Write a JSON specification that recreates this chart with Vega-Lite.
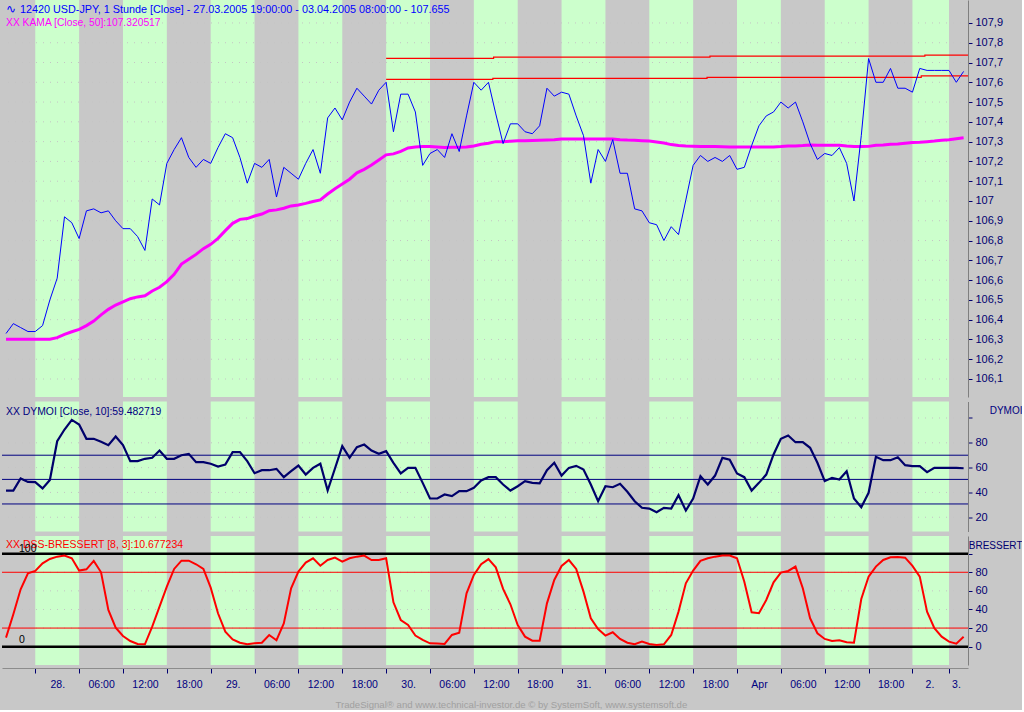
{
  "$schema": "https://vega.github.io/schema/vega-lite/v6.json",
  "padding": 0,
  "autosize": {"type": "pad"},
  "background": "#c8c8c8",
  "config": {
    "font": "Liberation Sans",
    "view": {"stroke": null, "fill": "#c8c8c8"},
    "axis": {
      "labelFont": "Liberation Sans",
      "labelFontSize": 11,
      "labelColor": "#000070",
      "tickColor": "#000070",
      "tickSize": 4,
      "labelPadding": 3,
      "domainColor": "#7f7f7f",
      "grid": false,
      "labelOverlap": false,
      "labelFlush": false
    }
  },
  "title": {
    "text": "TradeSignal® and www.technical-investor.de © by  SystemSoft, www.systemsoft.de",
    "orient": "bottom",
    "anchor": "middle",
    "fontSize": 9.6,
    "fontWeight": "normal",
    "color": "#a0a0a0",
    "font": "Liberation Sans",
    "offset": 10
  },
  "datasets": {
    "bars": [
      {"i":0,"price":106.33,"kama":106.301,"dymoi":41.5,"dss":9.7},
      {"i":1,"price":106.38,"kama":106.301,"dymoi":41.5,"dss":34.8},
      {"i":2,"price":106.36,"kama":106.301,"dymoi":51.2,"dss":61.7},
      {"i":3,"price":106.34,"kama":106.301,"dymoi":48.5,"dss":78.9},
      {"i":4,"price":106.34,"kama":106.301,"dymoi":48.3,"dss":81.4},
      {"i":5,"price":106.37,"kama":106.301,"dymoi":43.2,"dss":89.6},
      {"i":6,"price":106.50,"kama":106.301,"dymoi":50.1,"dss":94.3},
      {"i":7,"price":106.61,"kama":106.309,"dymoi":81.3,"dss":96.8},
      {"i":8,"price":106.92,"kama":106.326,"dymoi":90.7,"dss":97.9},
      {"i":9,"price":106.89,"kama":106.339,"dymoi":98.5,"dss":95.0},
      {"i":10,"price":106.81,"kama":106.351,"dymoi":94.8,"dss":81.8},
      {"i":11,"price":106.95,"kama":106.370,"dymoi":83.2,"dss":83.2},
      {"i":12,"price":106.96,"kama":106.393,"dymoi":83.2,"dss":92.2},
      {"i":13,"price":106.94,"kama":106.424,"dymoi":80.8,"dss":80.0},
      {"i":14,"price":106.95,"kama":106.452,"dymoi":78.1,"dss":39.5},
      {"i":15,"price":106.90,"kama":106.474,"dymoi":85.1,"dss":20.5},
      {"i":16,"price":106.86,"kama":106.490,"dymoi":78.1,"dss":11.5},
      {"i":17,"price":106.86,"kama":106.506,"dymoi":65.2,"dss":6.1},
      {"i":18,"price":106.82,"kama":106.515,"dymoi":65.2,"dss":2.9},
      {"i":19,"price":106.75,"kama":106.521,"dymoi":67.1,"dss":2.6},
      {"i":20,"price":107.01,"kama":106.545,"dymoi":67.9,"dss":21.5},
      {"i":21,"price":106.98,"kama":106.564,"dymoi":73.8,"dss":43.1},
      {"i":22,"price":107.19,"kama":106.592,"dymoi":67.1,"dss":64.6},
      {"i":23,"price":107.26,"kama":106.629,"dymoi":67.1,"dss":83.6},
      {"i":24,"price":107.32,"kama":106.681,"dymoi":70.0,"dss":92.5},
      {"i":25,"price":107.22,"kama":106.705,"dymoi":71.1,"dss":92.5},
      {"i":26,"price":107.17,"kama":106.730,"dymoi":64.4,"dss":88.6},
      {"i":27,"price":107.21,"kama":106.759,"dymoi":64.4,"dss":83.6},
      {"i":28,"price":107.19,"kama":106.781,"dymoi":63.1,"dss":63.5},
      {"i":29,"price":107.27,"kama":106.811,"dymoi":60.9,"dss":35.9},
      {"i":30,"price":107.34,"kama":106.850,"dymoi":62.5,"dss":16.2},
      {"i":31,"price":107.32,"kama":106.887,"dymoi":72.5,"dss":7.9},
      {"i":32,"price":107.22,"kama":106.907,"dymoi":72.5,"dss":4.3},
      {"i":33,"price":107.09,"kama":106.911,"dymoi":65.2,"dss":2.6},
      {"i":34,"price":107.19,"kama":106.924,"dymoi":55.5,"dss":3.6},
      {"i":35,"price":107.17,"kama":106.934,"dymoi":57.9,"dss":4.3},
      {"i":36,"price":107.21,"kama":106.951,"dymoi":57.9,"dss":12.6},
      {"i":37,"price":107.02,"kama":106.955,"dymoi":59.0,"dss":6.9},
      {"i":38,"price":107.17,"kama":106.963,"dymoi":52.3,"dss":25.1},
      {"i":39,"price":107.14,"kama":106.975,"dymoi":57.1,"dss":62.8},
      {"i":40,"price":107.11,"kama":106.980,"dymoi":61.7,"dss":80.7},
      {"i":41,"price":107.19,"kama":106.988,"dymoi":54.4,"dss":90.4},
      {"i":42,"price":107.26,"kama":106.997,"dymoi":59.8,"dss":95.0},
      {"i":43,"price":107.14,"kama":107.005,"dymoi":63.1,"dss":87.1},
      {"i":44,"price":107.42,"kama":107.035,"dymoi":41.5,"dss":93.2},
      {"i":45,"price":107.47,"kama":107.062,"dymoi":59.3,"dss":95.7},
      {"i":46,"price":107.41,"kama":107.086,"dymoi":77.3,"dss":91.4},
      {"i":47,"price":107.50,"kama":107.110,"dymoi":67.9,"dss":95.0},
      {"i":48,"price":107.57,"kama":107.142,"dymoi":76.5,"dss":96.8},
      {"i":49,"price":107.53,"kama":107.160,"dymoi":78.6,"dss":97.9},
      {"i":50,"price":107.49,"kama":107.182,"dymoi":73.8,"dss":93.2},
      {"i":51,"price":107.56,"kama":107.207,"dymoi":71.1,"dss":93.2},
      {"i":52,"price":107.60,"kama":107.233,"dymoi":73.3,"dss":95.0},
      {"i":53,"price":107.35,"kama":107.238,"dymoi":63.9,"dss":47.7},
      {"i":54,"price":107.54,"kama":107.251,"dymoi":55.3,"dss":28.7},
      {"i":55,"price":107.54,"kama":107.268,"dymoi":59.8,"dss":23.3},
      {"i":56,"price":107.45,"kama":107.273,"dymoi":59.8,"dss":11.9},
      {"i":57,"price":107.18,"kama":107.275,"dymoi":47.7,"dss":7.2},
      {"i":58,"price":107.24,"kama":107.275,"dymoi":35.1,"dss":3.6},
      {"i":59,"price":107.26,"kama":107.273,"dymoi":35.1,"dss":3.3},
      {"i":60,"price":107.22,"kama":107.270,"dymoi":38.3,"dss":2.9},
      {"i":61,"price":107.34,"kama":107.271,"dymoi":37.0,"dss":12.6},
      {"i":62,"price":107.25,"kama":107.271,"dymoi":41.0,"dss":15.1},
      {"i":63,"price":107.43,"kama":107.273,"dymoi":41.0,"dss":57.4},
      {"i":64,"price":107.60,"kama":107.278,"dymoi":43.7,"dss":77.1},
      {"i":65,"price":107.56,"kama":107.287,"dymoi":49.6,"dss":88.6},
      {"i":66,"price":107.60,"kama":107.292,"dymoi":52.3,"dss":94.2},
      {"i":67,"price":107.44,"kama":107.300,"dymoi":52.3,"dss":85.3},
      {"i":68,"price":107.29,"kama":107.300,"dymoi":46.4,"dss":62.1},
      {"i":69,"price":107.39,"kama":107.302,"dymoi":41.5,"dss":45.6},
      {"i":70,"price":107.39,"kama":107.305,"dymoi":45.0,"dss":23.3},
      {"i":71,"price":107.35,"kama":107.305,"dymoi":49.1,"dss":10.8},
      {"i":72,"price":107.34,"kama":107.306,"dymoi":47.7,"dss":6.5},
      {"i":73,"price":107.38,"kama":107.307,"dymoi":47.4,"dss":6.5},
      {"i":74,"price":107.57,"kama":107.308,"dymoi":57.9,"dss":46.6},
      {"i":75,"price":107.53,"kama":107.309,"dymoi":63.9,"dss":71.7},
      {"i":76,"price":107.55,"kama":107.313,"dymoi":53.6,"dss":86.8},
      {"i":77,"price":107.54,"kama":107.313,"dymoi":59.8,"dss":93.2},
      {"i":78,"price":107.43,"kama":107.313,"dymoi":61.4,"dss":83.6},
      {"i":79,"price":107.33,"kama":107.313,"dymoi":58.5,"dss":59.2},
      {"i":80,"price":107.09,"kama":107.313,"dymoi":46.4,"dss":30.5},
      {"i":81,"price":107.26,"kama":107.313,"dymoi":32.9,"dss":19.0},
      {"i":82,"price":107.20,"kama":107.313,"dymoi":45.0,"dss":11.9},
      {"i":83,"price":107.31,"kama":107.313,"dymoi":44.2,"dss":15.5},
      {"i":84,"price":107.14,"kama":107.310,"dymoi":46.9,"dss":8.3},
      {"i":85,"price":107.14,"kama":107.308,"dymoi":40.5,"dss":4.3},
      {"i":86,"price":106.96,"kama":107.307,"dymoi":32.9,"dss":2.6},
      {"i":87,"price":106.95,"kama":107.305,"dymoi":27.6,"dss":5.4},
      {"i":88,"price":106.89,"kama":107.303,"dymoi":27.0,"dss":2.9},
      {"i":89,"price":106.88,"kama":107.298,"dymoi":24.1,"dss":1.8},
      {"i":90,"price":106.80,"kama":107.293,"dymoi":27.6,"dss":2.6},
      {"i":91,"price":106.87,"kama":107.285,"dymoi":27.0,"dss":12.6},
      {"i":92,"price":106.83,"kama":107.280,"dymoi":37.8,"dss":37.7},
      {"i":93,"price":107.005,"kama":107.278,"dymoi":25.4,"dss":68.1},
      {"i":94,"price":107.18,"kama":107.277,"dymoi":35.1,"dss":81.8},
      {"i":95,"price":107.23,"kama":107.276,"dymoi":53.1,"dss":92.2},
      {"i":96,"price":107.20,"kama":107.275,"dymoi":46.4,"dss":95.0},
      {"i":97,"price":107.22,"kama":107.275,"dymoi":53.6,"dss":96.8},
      {"i":98,"price":107.20,"kama":107.274,"dymoi":67.9,"dss":97.9},
      {"i":99,"price":107.23,"kama":107.273,"dymoi":66.3,"dss":97.9},
      {"i":100,"price":107.16,"kama":107.273,"dymoi":55.3,"dss":95.0},
      {"i":101,"price":107.17,"kama":107.273,"dymoi":52.3,"dss":69.9},
      {"i":102,"price":107.28,"kama":107.273,"dymoi":41.5,"dss":37.0},
      {"i":103,"price":107.38,"kama":107.273,"dymoi":47.7,"dss":35.9},
      {"i":104,"price":107.43,"kama":107.273,"dymoi":54.4,"dss":50.2},
      {"i":105,"price":107.45,"kama":107.273,"dymoi":70.6,"dss":69.2},
      {"i":106,"price":107.50,"kama":107.275,"dymoi":83.2,"dss":79.6},
      {"i":107,"price":107.47,"kama":107.278,"dymoi":85.9,"dss":81.4},
      {"i":108,"price":107.50,"kama":107.278,"dymoi":80.5,"dss":86.1},
      {"i":109,"price":107.40,"kama":107.280,"dymoi":80.5,"dss":62.8},
      {"i":110,"price":107.29,"kama":107.283,"dymoi":76.0,"dss":30.5},
      {"i":111,"price":107.21,"kama":107.282,"dymoi":63.9,"dss":14.4},
      {"i":112,"price":107.24,"kama":107.282,"dymoi":49.1,"dss":8.3},
      {"i":113,"price":107.23,"kama":107.282,"dymoi":51.8,"dss":6.1},
      {"i":114,"price":107.27,"kama":107.282,"dymoi":50.4,"dss":6.9},
      {"i":115,"price":107.19,"kama":107.278,"dymoi":57.1,"dss":4.7},
      {"i":116,"price":107.00,"kama":107.275,"dymoi":35.1,"dss":4.3},
      {"i":117,"price":107.33,"kama":107.275,"dymoi":28.1,"dss":51.3},
      {"i":118,"price":107.72,"kama":107.276,"dymoi":39.7,"dss":75.3},
      {"i":119,"price":107.60,"kama":107.282,"dymoi":68.7,"dss":86.1},
      {"i":120,"price":107.60,"kama":107.283,"dymoi":66.0,"dss":93.2},
      {"i":121,"price":107.67,"kama":107.287,"dymoi":66.0,"dss":96.1},
      {"i":122,"price":107.57,"kama":107.288,"dymoi":68.4,"dss":96.4},
      {"i":123,"price":107.57,"kama":107.292,"dymoi":62.0,"dss":95.7},
      {"i":124,"price":107.55,"kama":107.295,"dymoi":61.2,"dss":86.8},
      {"i":125,"price":107.67,"kama":107.297,"dymoi":61.2,"dss":75.3},
      {"i":126,"price":107.66,"kama":107.300,"dymoi":56.3,"dss":37.7},
      {"i":127,"price":107.66,"kama":107.303,"dymoi":59.8,"dss":19.8},
      {"i":128,"price":107.66,"kama":107.307,"dymoi":59.8,"dss":10.8},
      {"i":129,"price":107.66,"kama":107.310,"dymoi":59.8,"dss":5.4},
      {"i":130,"price":107.60,"kama":107.315,"dymoi":59.8,"dss":3.3},
      {"i":131,"price":107.655,"kama":107.320,"dymoi":59.5,"dss":10.7}
    ],
    "bands": [
      {"i":4,"i2":10},{"i":16,"i2":22},{"i":28,"i2":34},{"i":40,"i2":46},
      {"i":52,"i2":58},{"i":64,"i2":70},{"i":76,"i2":82},{"i":88,"i2":94},
      {"i":100,"i2":106},{"i":112,"i2":118},{"i":124,"i2":129}
    ],
    "grid1": [
      {"level":106.1},{"level":106.2},{"level":106.3},{"level":106.4},{"level":106.5},
      {"level":106.6},{"level":106.7},{"level":106.8},{"level":106.9},{"level":107.0},
      {"level":107.1},{"level":107.2},{"level":107.3},{"level":107.4},{"level":107.5},
      {"level":107.6},{"level":107.7},{"level":107.8},{"level":107.9}
    ],
    "grid2": [{"level":20},{"level":40},{"level":60},{"level":80},{"level":100}],
    "grid3": [{"level":20},{"level":40},{"level":60},{"level":80}],
    "steps": [
      {"line":"hi","i":52,"v":107.721},{"line":"hi","i":66.7,"v":107.727},
      {"line":"hi","i":96.3,"v":107.732},{"line":"hi","i":125.7,"v":107.737},
      {"line":"hi","i":131.6,"v":107.737},
      {"line":"lo","i":52,"v":107.615},{"line":"lo","i":66.6,"v":107.62},
      {"line":"lo","i":95.9,"v":107.625},{"line":"lo","i":125.2,"v":107.632},
      {"line":"lo","i":131.6,"v":107.632}
    ],
    "dymoiLevels": [{"level":70},{"level":50.5},{"level":30.7}],
    "dssLevels": [{"level":100,"kind":"outer"},{"level":0,"kind":"outer"},{"level":80,"kind":"inner"},{"level":20,"kind":"inner"}],
    "notes": [
      {"id":"icon","text":"∿"},
      {"id":"head","text":"12420  USD-JPY, 1 Stunde [Close] - 27.03.2005 19:00:00 - 03.04.2005 08:00:00 - 107.655"},
      {"id":"kama","text":"XX KAMA [Close, 50]:107.320517"},
      {"id":"dymoi","text":"XX DYMOI [Close, 10]:59.482719"},
      {"id":"dss","text":"XX DSS-BRESSERT [8, 3]:10.677234"},
      {"id":"l100","text":"100"},
      {"id":"l0","text":"0"}
    ]
  },
  "vconcat": [
    {
      "width": 966,
      "height": 397,
      "layer": [
        {
          "data": {"name": "bands"},
          "mark": {"type": "rect", "color": "#ccffcc"},
          "encoding": {
            "x": {"field": "i", "type": "quantitative", "title": null, "scale": {"domain": [-0.55, 131.6], "nice": false, "zero": false},
              "axis": {"labels": false, "ticks": false, "domain": false, "grid": false, "title": null}},
            "x2": {"field": "i2"}
          }
        },
        {
          "data": {"name": "grid1"},
          "mark": {"type": "rule", "color": "#c4c4c4", "strokeDash": [1, 6], "strokeWidth": 1},
          "encoding": {
            "y": {"field": "level", "type": "quantitative", "title": null, "scale": {"domain": [106.009, 108.016], "nice": false, "zero": false},
              "axis": {
                "orient": "right", "title": null, "grid": false, "labelOverlap": false, "tickCount": 100,
                "values": [106.1,106.2,106.3,106.4,106.5,106.6,106.7,106.8,106.9,107,107.1,107.2,107.3,107.4,107.5,107.6,107.7,107.8,107.9],
                "labelExpr": "abs(datum.value-round(datum.value))<0.001 ? format(datum.value,'d') : replace(format(datum.value,'.1f'),'.',',')"
              }
            }
          }
        },
        {
          "data": {"name": "steps"},
          "mark": {"type": "line", "color": "#ff0000", "strokeWidth": 1.2, "interpolate": "step-after", "clip": true},
          "encoding": {
            "x": {"field": "i", "type": "quantitative", "title": null, "scale": {"domain": [-0.55, 131.6], "nice": false, "zero": false}},
            "y": {"field": "v", "type": "quantitative", "title": null, "scale": {"domain": [106.009, 108.016], "nice": false, "zero": false}},
            "detail": {"field": "line"}
          }
        },
        {
          "data": {"name": "bars"},
          "mark": {"type": "line", "color": "#ff00ff", "strokeWidth": 3, "clip": true},
          "encoding": {
            "x": {"field": "i", "type": "quantitative", "title": null, "scale": {"domain": [-0.55, 131.6], "nice": false, "zero": false}},
            "y": {"field": "kama", "type": "quantitative", "title": null, "scale": {"domain": [106.009, 108.016], "nice": false, "zero": false}}
          }
        },
        {
          "data": {"name": "bars"},
          "mark": {"type": "line", "color": "#0000ff", "strokeWidth": 1, "clip": true},
          "encoding": {
            "x": {"field": "i", "type": "quantitative", "title": null, "scale": {"domain": [-0.55, 131.6], "nice": false, "zero": false}},
            "y": {"field": "price", "type": "quantitative", "title": null, "scale": {"domain": [106.009, 108.016], "nice": false, "zero": false}}
          }
        },
        {
          "data": {"name": "notes"},
          "transform": [{"filter": "datum.id == 'icon'"}],
          "mark": {"type": "text", "align": "left", "baseline": "alphabetic", "color": "#0000ff", "fontSize": 12},
          "encoding": {
            "x": {"datum": 0, "type": "quantitative", "title": null, "scale": {"domain": [-0.55, 131.6], "nice": false, "zero": false}},
            "y": {"datum": 107.95, "type": "quantitative", "title": null, "scale": {"domain": [106.009, 108.016], "nice": false, "zero": false}},
            "text": {"field": "text"}
          }
        },
        {
          "data": {"name": "notes"},
          "transform": [{"filter": "datum.id == 'head'"}],
          "mark": {"type": "text", "align": "left", "baseline": "alphabetic", "color": "#0000ff", "fontSize": 10.8, "dx": 14},
          "encoding": {
            "x": {"datum": 0, "type": "quantitative", "title": null, "scale": {"domain": [-0.55, 131.6], "nice": false, "zero": false}},
            "y": {"datum": 107.95, "type": "quantitative", "title": null, "scale": {"domain": [106.009, 108.016], "nice": false, "zero": false}},
            "text": {"field": "text"}
          }
        },
        {
          "data": {"name": "notes"},
          "transform": [{"filter": "datum.id == 'kama'"}],
          "mark": {"type": "text", "align": "left", "baseline": "alphabetic", "color": "#ff00ff", "fontSize": 10.3},
          "encoding": {
            "x": {"datum": 0, "type": "quantitative", "title": null, "scale": {"domain": [-0.55, 131.6], "nice": false, "zero": false}},
            "y": {"datum": 107.885, "type": "quantitative", "title": null, "scale": {"domain": [106.009, 108.016], "nice": false, "zero": false}},
            "text": {"field": "text"}
          }
        }
      ]
    },
    {
      "width": 966,
      "height": 130,
      "layer": [
        {
          "data": {"name": "bands"},
          "mark": {"type": "rect", "color": "#ccffcc"},
          "encoding": {
            "x": {"field": "i", "type": "quantitative", "title": null, "scale": {"domain": [-0.55, 131.6], "nice": false, "zero": false},
              "axis": {"labels": false, "ticks": false, "domain": false, "grid": false, "title": null}},
            "x2": {"field": "i2"}
          }
        },
        {
          "data": {"name": "grid2"},
          "mark": {"type": "rule", "color": "#c4c4c4", "strokeDash": [1, 6], "strokeWidth": 1},
          "encoding": {
            "y": {"field": "level", "type": "quantitative", "scale": {"domain": [8.5, 113.3], "nice": false, "zero": false},
              "axis": {
                "orient": "right", "grid": false, "labelOverlap": false, "tickCount": 100,
                "values": [20, 40, 60, 80, 100],
                "labelExpr": "datum.value == 100 ? '' : format(datum.value, 'd')",
                "title": "DYMOI", "titleAngle": 0, "titleAlign": "right", "titleBaseline": "alphabetic",
                "titleX": 54, "titleY": 12, "titleFontWeight": "normal", "titleFontSize": 10,
                "titleColor": "#000080", "titleFont": "Liberation Sans"
              }
            }
          }
        },
        {
          "data": {"name": "dymoiLevels"},
          "mark": {"type": "rule", "color": "#000080", "strokeWidth": 1},
          "encoding": {
            "y": {"field": "level", "type": "quantitative", "scale": {"domain": [8.5, 113.3], "nice": false, "zero": false}}
          }
        },
        {
          "data": {"name": "bars"},
          "mark": {"type": "line", "color": "#00006b", "strokeWidth": 2.2, "clip": true},
          "encoding": {
            "x": {"field": "i", "type": "quantitative", "title": null, "scale": {"domain": [-0.55, 131.6], "nice": false, "zero": false}},
            "y": {"field": "dymoi", "type": "quantitative", "scale": {"domain": [8.5, 113.3], "nice": false, "zero": false}}
          }
        },
        {
          "data": {"name": "notes"},
          "transform": [{"filter": "datum.id == 'dymoi'"}],
          "mark": {"type": "text", "align": "left", "baseline": "alphabetic", "color": "#000080", "fontSize": 10.4},
          "encoding": {
            "x": {"datum": 0, "type": "quantitative", "title": null, "scale": {"domain": [-0.55, 131.6], "nice": false, "zero": false}},
            "y": {"datum": 102.8, "type": "quantitative", "scale": {"domain": [8.5, 113.3], "nice": false, "zero": false}},
            "text": {"field": "text"}
          }
        }
      ]
    },
    {
      "width": 966,
      "height": 129,
      "layer": [
        {
          "data": {"name": "bands"},
          "mark": {"type": "rect", "color": "#ccffcc"},
          "encoding": {
            "x": {"field": "i", "type": "quantitative", "title": null, "scale": {"domain": [-0.55, 131.6], "nice": false, "zero": false},
              "axis": {
                "orient": "bottom", "title": null, "grid": false, "offset": 3, "tickCount": 100,
                "values": [4,10,16,22,28,34,40,46,52,58,64,70,76,82,88,94,100,106,112,118,124,129],
                "labelExpr": "['28.','06:00','12:00','18:00','29.','06:00','12:00','18:00','30.','06:00','12:00','18:00','31.','06:00','12:00','18:00','Apr','06:00','12:00','18:00','2.','3.'][indexof([4,10,16,22,28,34,40,46,52,58,64,70,76,82,88,94,100,106,112,118,124,129], datum.value)]",
                "labelOffset": {"condition": [{"test": "datum.value == 124", "value": 17}, {"test": "datum.value == 129", "value": 7}], "value": 22},
                "tickSize": 5, "labelPadding": 6, "labelFontSize": 10.5, "labelColor": "#000080",
                "domainColor": "#8c8c8c"
              }
            },
            "x2": {"field": "i2"}
          }
        },
        {
          "data": {"name": "grid3"},
          "mark": {"type": "rule", "color": "#c4c4c4", "strokeDash": [1, 6], "strokeWidth": 1},
          "encoding": {
            "y": {"field": "level", "type": "quantitative", "scale": {"domain": [-19.7, 119], "nice": false, "zero": false},
              "axis": {
                "orient": "right", "grid": false, "labelOverlap": false, "tickCount": 100,
                "values": [0, 20, 40, 60, 80, 100],
                "labelExpr": "datum.value == 100 ? '' : format(datum.value, 'd')",
                "title": "BRESSERT", "titleAngle": 0, "titleAlign": "right", "titleBaseline": "alphabetic",
                "titleX": 54, "titleY": 12, "titleFontWeight": "normal", "titleFontSize": 10,
                "titleColor": "#000070", "titleFont": "Liberation Sans"
              }
            }
          }
        },
        {
          "data": {"name": "dssLevels"},
          "transform": [{"filter": "datum.kind == 'inner'"}],
          "mark": {"type": "rule", "color": "#ff0000", "strokeWidth": 1},
          "encoding": {
            "y": {"field": "level", "type": "quantitative", "scale": {"domain": [-19.7, 119], "nice": false, "zero": false}}
          }
        },
        {
          "data": {"name": "dssLevels"},
          "transform": [{"filter": "datum.kind == 'outer'"}],
          "mark": {"type": "rule", "color": "#000000", "strokeWidth": 2.5},
          "encoding": {
            "y": {"field": "level", "type": "quantitative", "scale": {"domain": [-19.7, 119], "nice": false, "zero": false}}
          }
        },
        {
          "data": {"name": "bars"},
          "mark": {"type": "line", "color": "#ff0000", "strokeWidth": 2, "clip": true},
          "encoding": {
            "x": {"field": "i", "type": "quantitative", "title": null, "scale": {"domain": [-0.55, 131.6], "nice": false, "zero": false}},
            "y": {"field": "dss", "type": "quantitative", "scale": {"domain": [-19.7, 119], "nice": false, "zero": false}}
          }
        },
        {
          "data": {"name": "notes"},
          "transform": [{"filter": "datum.id == 'dss'"}],
          "mark": {"type": "text", "align": "left", "baseline": "alphabetic", "color": "#ff0000", "fontSize": 10.5},
          "encoding": {
            "x": {"datum": 0, "type": "quantitative", "title": null, "scale": {"domain": [-0.55, 131.6], "nice": false, "zero": false}},
            "y": {"datum": 106.1, "type": "quantitative", "scale": {"domain": [-19.7, 119], "nice": false, "zero": false}},
            "text": {"field": "text"}
          }
        },
        {
          "data": {"name": "notes"},
          "transform": [{"filter": "datum.id == 'l100'"}],
          "mark": {"type": "text", "align": "left", "baseline": "alphabetic", "color": "#000000", "fontSize": 10.5, "dx": 13},
          "encoding": {
            "x": {"datum": 0, "type": "quantitative", "title": null, "scale": {"domain": [-0.55, 131.6], "nice": false, "zero": false}},
            "y": {"datum": 101.8, "type": "quantitative", "scale": {"domain": [-19.7, 119], "nice": false, "zero": false}},
            "text": {"field": "text"}
          }
        },
        {
          "data": {"name": "notes"},
          "transform": [{"filter": "datum.id == 'l0'"}],
          "mark": {"type": "text", "align": "left", "baseline": "alphabetic", "color": "#000000", "fontSize": 10.5, "dx": 13},
          "encoding": {
            "x": {"datum": 0, "type": "quantitative", "title": null, "scale": {"domain": [-0.55, 131.6], "nice": false, "zero": false}},
            "y": {"datum": 4, "type": "quantitative", "scale": {"domain": [-19.7, 119], "nice": false, "zero": false}},
            "text": {"field": "text"}
          }
        }
      ]
    }
  ],
  "spacing": 4.5
}
